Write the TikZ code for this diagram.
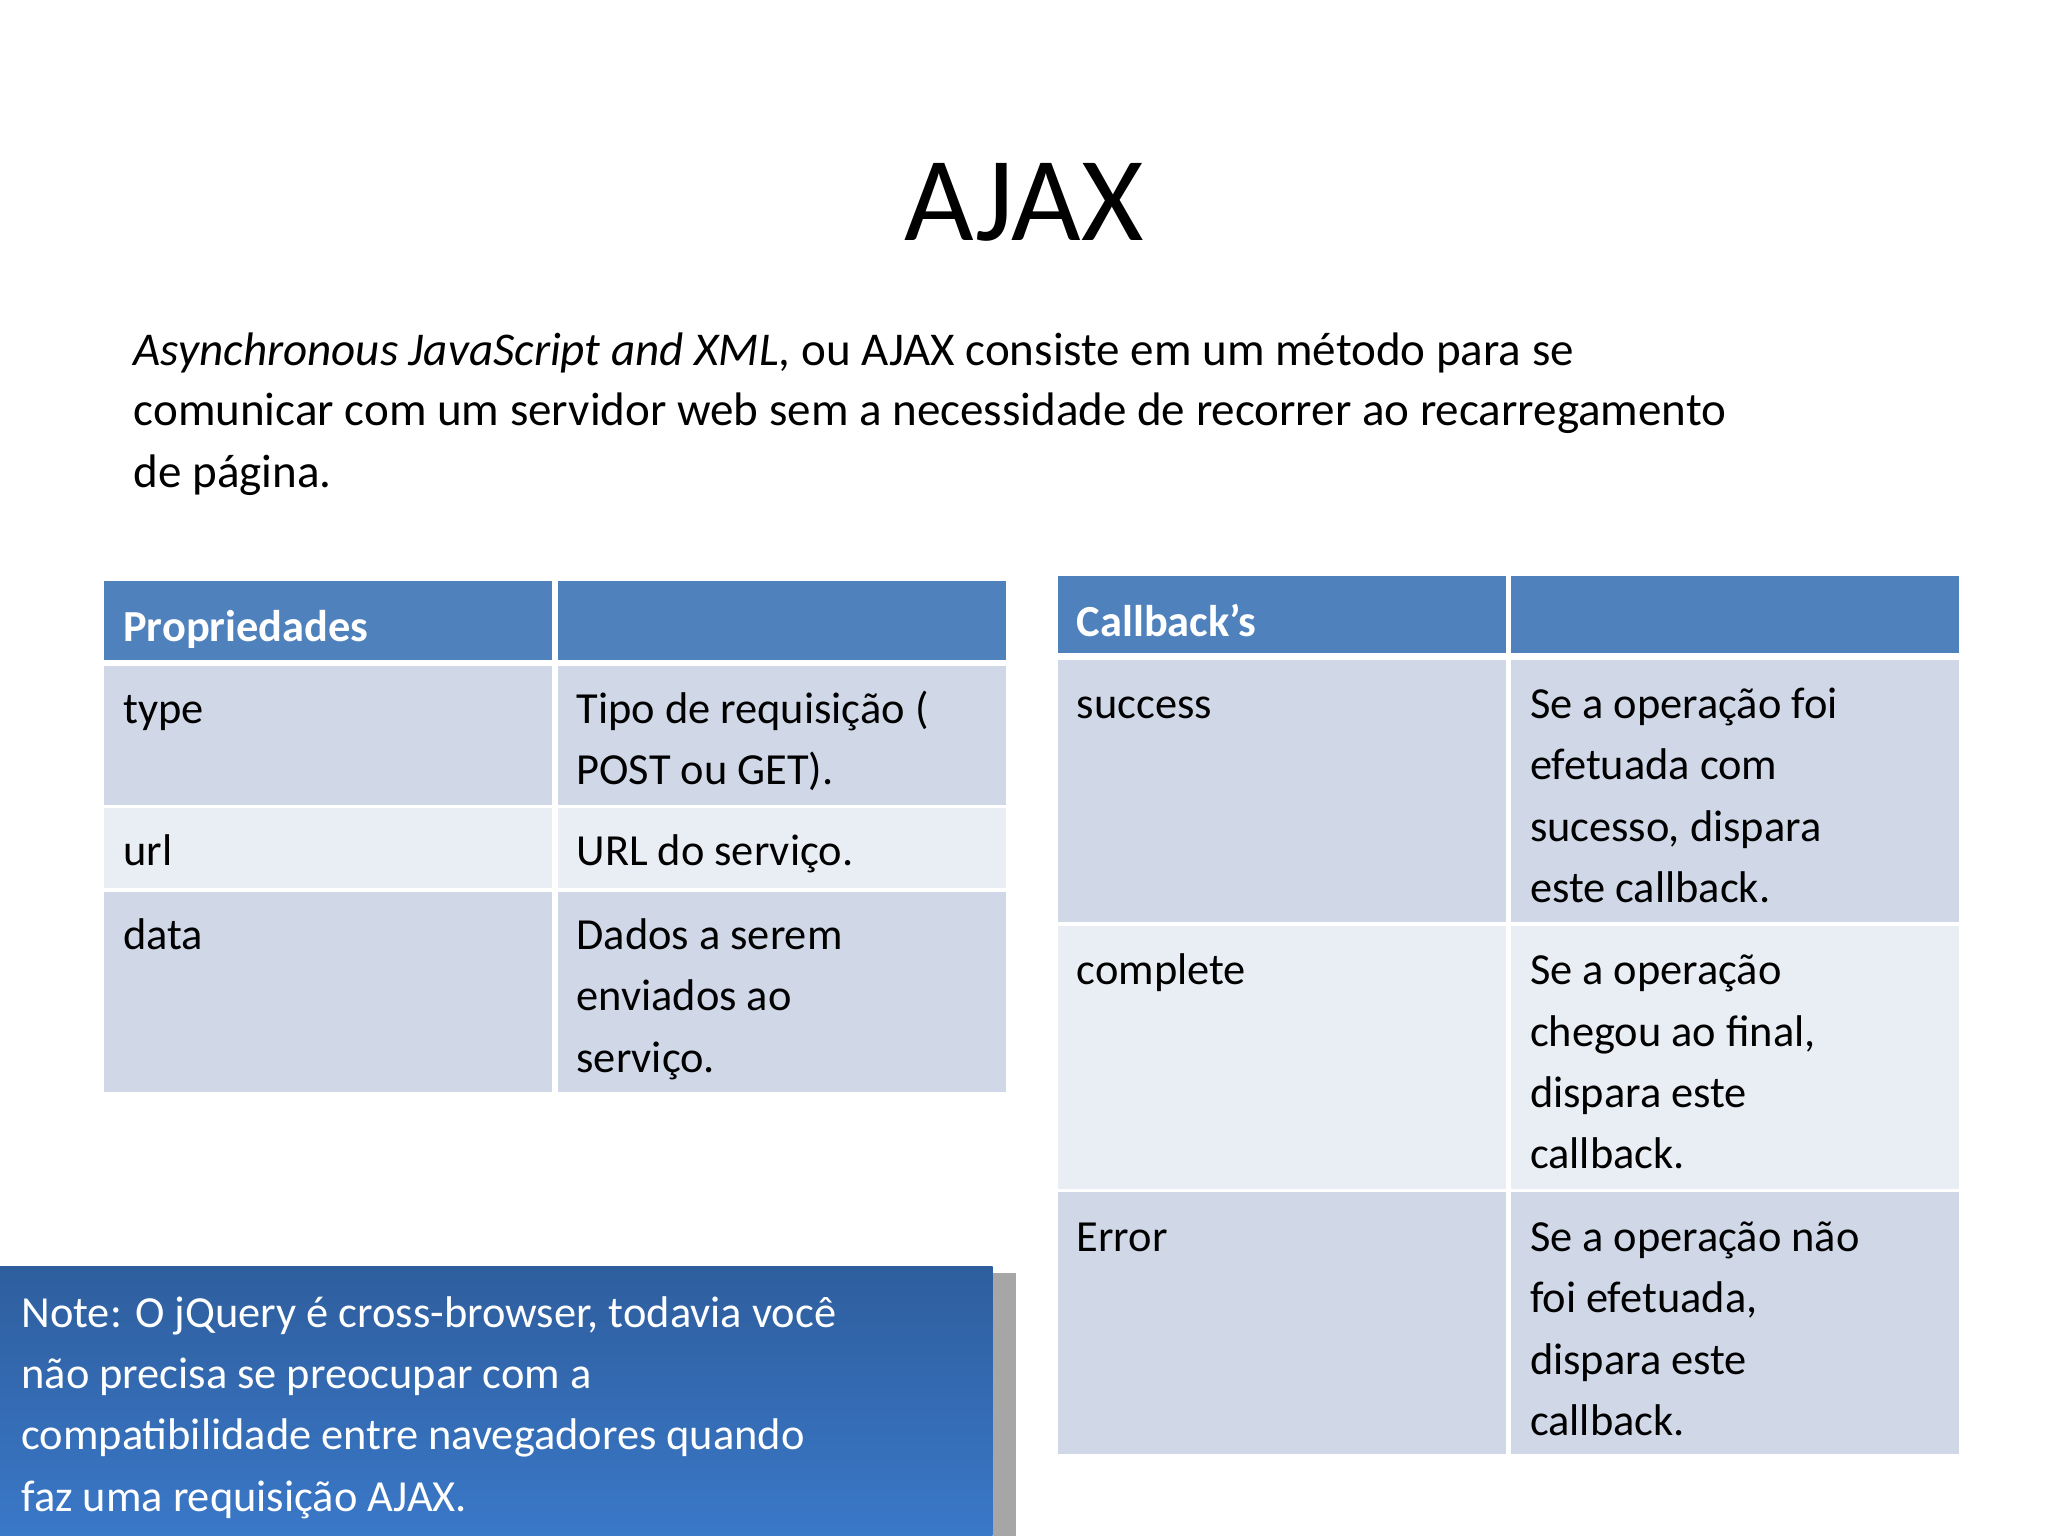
\documentclass[tikz,border=0pt]{standalone}
\usepackage{fontspec}
\setmainfont{Carlito}
\begin{document}
\begin{tikzpicture}[x=0.5pt,y=-0.5pt,
  txt/.style={anchor=base west,inner sep=0pt,font=\fontsize{17pt}{20pt}\selectfont},
  hdr/.style={txt,text=white,font=\fontsize{17pt}{20pt}\selectfont\bfseries},
  wtxt/.style={txt,text=white}]
\definecolor{hd}{HTML}{4F81BD}
\definecolor{ra}{HTML}{D0D8E8}
\definecolor{rb}{HTML}{E9EDF4}
\useasboundingbox (0,0) rectangle (1568,1176);
\fill[white] (0,0) rectangle (1568,1176);
\node[anchor=base,inner sep=0pt,font=\fontsize{46pt}{50pt}\selectfont] (title) at (784,184) {AJAX};
\node[txt,font=\fontsize{18pt}{20pt}\selectfont] (p1) at (102,280) {\textit{Asynchronous JavaScript and XML}, ou AJAX consiste em um método para se};
\node[txt,font=\fontsize{18pt}{20pt}\selectfont] (p2) at (102,326) {comunicar com um servidor web sem a necessidade de recorrer ao recarregamento};
\node[txt,font=\fontsize{18pt}{20pt}\selectfont] (p3) at (102,373) {de página.};
% left table
\fill[hd] (80,445) rectangle (423,505); \fill[hd] (427,445) rectangle (770,505);
\fill[ra] (80,510) rectangle (423,616); \fill[ra] (427,510) rectangle (770,616);
\fill[rb] (80,619) rectangle (423,680); \fill[rb] (427,619) rectangle (770,680);
\fill[ra] (80,683) rectangle (423,836); \fill[ra] (427,683) rectangle (770,836);
\node[hdr] (lh) at (94,491) {Propriedades};
\node[txt] (l1) at (94,554) {type};
\node[txt] (l1a) at (441,554) {Tipo de requisição (};
\node[txt] (l1b) at (441,601) {POST ou GET).};
\node[txt] (l2) at (94,663) {url};
\node[txt] (l2a) at (441,663) {URL do serviço.};
\node[txt] (l3) at (94,727) {data};
\node[txt] (l3a) at (441,727) {Dados a serem};
\node[txt] (l3b) at (441,774) {enviados ao};
\node[txt] (l3c) at (441,821) {serviço.};
% right table
\fill[hd] (810,441) rectangle (1153,500); \fill[hd] (1157,441) rectangle (1500,500);
\fill[ra] (810,505) rectangle (1153,706); \fill[ra] (1157,505) rectangle (1500,706);
\fill[rb] (810,709) rectangle (1153,910); \fill[rb] (1157,709) rectangle (1500,910);
\fill[ra] (810,913) rectangle (1153,1113); \fill[ra] (1157,913) rectangle (1500,1113);
\node[hdr] (rh) at (824,487) {Callback’s};
\node[txt] (r1) at (824,550) {success};
\node[txt] (r1a) at (1171,550) {Se a operação foi};
\node[txt] (r1b) at (1171,597) {efetuada com};
\node[txt] (r1c) at (1171,644) {sucesso, dispara};
\node[txt] (r1d) at (1171,691) {este callback.};
\node[txt] (r2) at (824,754) {complete};
\node[txt] (r2a) at (1171,754) {Se a operação};
\node[txt] (r2b) at (1171,801) {chegou ao final,};
\node[txt] (r2c) at (1171,848) {dispara este};
\node[txt] (r2d) at (1171,895) {callback.};
\node[txt] (r3) at (824,958) {Error};
\node[txt] (r3a) at (1171,958) {Se a operação não};
\node[txt] (r3b) at (1171,1005) {foi efetuada,};
\node[txt] (r3c) at (1171,1052) {dispara este};
\node[txt] (r3d) at (1171,1099) {callback.};
% note
\fill[gray!70] (760,975) rectangle (778,1176);
\shade[top color={rgb,255:red,46;green,94;blue,158},bottom color={rgb,255:red,58;green,120;blue,200}] (0,970) rectangle (760,1176);
\node[wtxt] (n1) at (16,1016) {Note: O jQuery é cross-browser, todavia você};
\node[wtxt] (n2) at (16,1063) {não precisa se preocupar com a};
\node[wtxt] (n3) at (16,1110) {compatibilidade entre navegadores quando};
\node[wtxt] (n4) at (16,1157) {faz uma requisição AJAX.};
\end{tikzpicture}
\end{document}
